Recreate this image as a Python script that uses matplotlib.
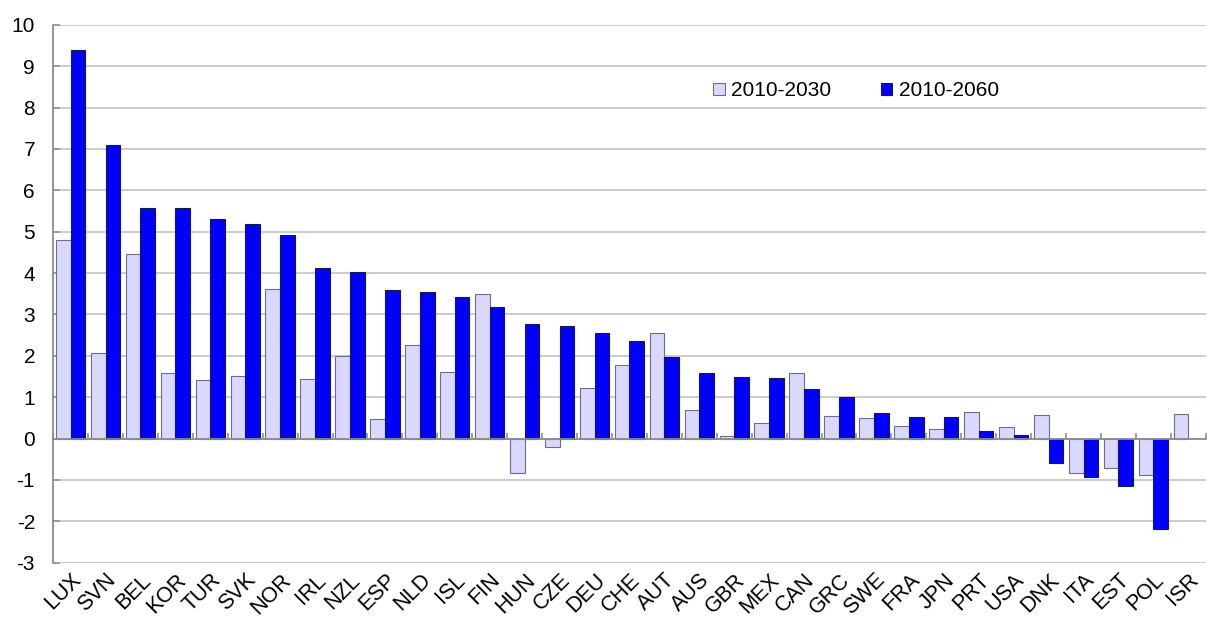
import numpy as np
import matplotlib.pyplot as plt

COUNTRIES = ["LUX", "SVN", "BEL", "KOR", "TUR", "SVK", "NOR", "IRL", "NZL", "ESP",
             "NLD", "ISL", "FIN", "HUN", "CZE", "DEU", "CHE", "AUT", "AUS", "GBR",
             "MEX", "CAN", "GRC", "SWE", "FRA", "JPN", "PRT", "USA", "DNK", "ITA",
             "EST", "POL", "ISR"]

VAL_2030 = [4.8, 2.07, 4.45, 1.58, 1.41, 1.51, 3.62, 1.45, 1.99, 0.48,
            2.27, 1.62, 3.50, -0.84, -0.21, 1.21, 1.78, 2.55, 0.68, 0.05,
            0.37, 1.58, 0.54, 0.49, 0.30, 0.24, 0.64, 0.29, 0.56, -0.83,
            -0.71, -0.87, 0.59]

VAL_2060 = [9.4, 7.09, 5.58, 5.57, 5.31, 5.19, 4.91, 4.13, 4.02, 3.58,
            3.55, 3.42, 3.17, 2.77, 2.71, 2.56, 2.36, 1.97, 1.58, 1.48,
            1.46, 1.19, 1.0, 0.61, 0.52, 0.52, 0.19, 0.08, -0.60, -0.92,
            -1.14, -2.18, np.nan]

YTICKS = list(range(-3, 11))

plt.rcParams["font.family"] = ["Liberation Sans", "DejaVu Sans"]
plt.rcParams["axes.unicode_minus"] = False

fig = plt.figure(figsize=(12.07, 6.21), dpi=100)
ax = fig.add_axes([0.044, 0.094, 0.955, 0.866])

x = np.arange(len(COUNTRIES))
w = 0.42
ax.bar(x - w / 2, VAL_2030, w, color="#D9D9FF", edgecolor="#6E6E80",
       linewidth=0.8, label="2010-2030", zorder=3)
ax.bar(x + w / 2, VAL_2060, w, color="#0000FF", edgecolor="#1A1A40",
       linewidth=0.8, label="2010-2060", zorder=3)

ax.set_xlim(-0.5, len(COUNTRIES) - 0.5)
ax.set_ylim(-3, 10)
ax.set_yticks(YTICKS)
ax.yaxis.grid(True, color="#C4C4C4", linewidth=1.2, zorder=0)
ax.tick_params(axis="y", labelsize=15, length=5, direction="in",
               color="#909090", width=1.2, pad=13)

for s in ["top", "right"]:
    ax.spines[s].set_visible(False)
ax.spines["left"].set_color("#8C8C8C")
ax.spines["left"].set_linewidth(1.3)
ax.spines["bottom"].set_position(("data", 0))
ax.spines["bottom"].set_color("#8C8C8C")
ax.spines["bottom"].set_linewidth(1.3)
ax.spines["bottom"].set_zorder(4)

# small boundary ticks on the zero line
ax.set_xticks(np.arange(len(COUNTRIES) + 1) - 0.5)
ax.set_xticklabels([])
ax.tick_params(axis="x", direction="in", length=4, color="#909090", width=1.2)

# category labels at the bottom
sec = ax.secondary_xaxis("bottom")
sec.set_xticks(x)
sec.set_xticklabels(COUNTRIES, rotation=45, ha="right", rotation_mode="anchor",
                    fontsize=15.5)
sec.tick_params(length=0, pad=5)
sec.spines["bottom"].set_visible(False)

fig.legend(loc="center", bbox_to_anchor=(856 / 1207, 1 - 91 / 621),
           ncol=2, frameon=False, fontsize=15, handlelength=0.55,
           handleheight=0.55, handletextpad=0.3, columnspacing=2.4)

fig.savefig("out.png", dpi=100)
